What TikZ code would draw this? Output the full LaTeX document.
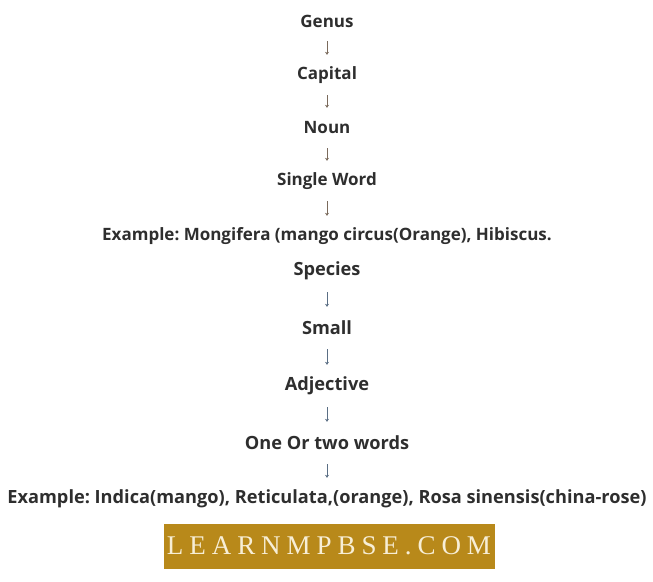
\documentclass[tikz,border=0pt]{standalone}
\usepackage{fontspec}
\setmainfont{Open Sans}
\newfontfamily\logofont[LetterSpace=22]{Liberation Serif}
\usetikzlibrary{arrows.meta}
\frenchspacing
\definecolor{txt}{HTML}{2E2E2E}
\definecolor{arrtop}{HTML}{7A6A5C}
\definecolor{arrbot}{HTML}{5A6E84}
\definecolor{gold}{HTML}{B8891A}
\definecolor{cream}{HTML}{F7EED6}
\tikzset{
  term/.style={inner sep=0pt, minimum height=20pt, text=txt, font=\bfseries\fontsize{17}{20}\selectfont},
  termB/.style={term, font=\bfseries\fontsize{18.2}{20}\selectfont},
  arrA/.style={draw=arrtop, line width=0.9pt, -{Stealth[length=3pt,width=4pt]}, shorten <=10pt, shorten >=10pt},
  arrB/.style={draw=arrbot, line width=0.9pt, -{Stealth[length=3pt,width=4pt]}, shorten <=11pt, shorten >=11pt},
  logo/.style={fill=gold, minimum width=331pt, minimum height=45pt, inner sep=0pt, text=cream, font=\logofont\fontsize{27}{30}\selectfont}
}
\begin{document}
\begin{tikzpicture}[x=1pt,y=-1pt]
\useasboundingbox (0,0) rectangle (653,581);
\node[term] (genus)   at (327,21)  {Genus};
\node[term] (capital) at (327,75)  {Capital};
\node[term] (noun)    at (327,128) {Noun};
\node[term] (single)  at (327,181) {Single Word};
\node[term] (ex1)     at (327,236) {Example: Mongifera (mango circus(Orange), Hibiscus.};
\node[termB] (species) at (327,271) {Species};
\node[termB] (small)   at (327,328) {Small};
\node[termB] (adj)     at (327,386) {Adjective};
\node[termB] (words)   at (327,443) {One Or two words};
\node[termB] (ex2)     at (327,499) {Example: Indica(mango), Reticulata,(orange), Rosa sinensis(china-rose)};
\draw[arrA] (genus) -- (capital);
\draw[arrA] (capital) -- (noun);
\draw[arrA] (noun) -- (single);
\draw[arrA] (single) -- (ex1);
\draw[arrB] (species) -- (small);
\draw[arrB] (small) -- (adj);
\draw[arrB] (adj) -- (words);
\draw[arrB] (words) -- (ex2);
\node[logo] (brand) at (329,546) {LEARNMPBSE.COM};
\end{tikzpicture}
\end{document}
